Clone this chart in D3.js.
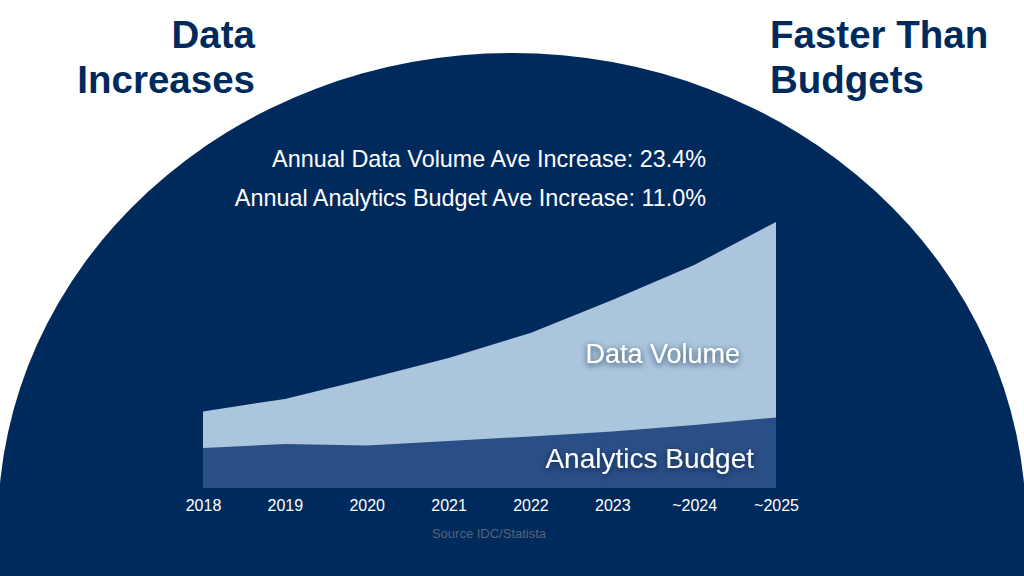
<!DOCTYPE html>
<html>
<head>
<meta charset="utf-8">
<script src="https://cdn.jsdelivr.net/npm/d3@7"></script>
<style>
  body { margin: 0; background: #fff; }
  svg { display: block; font-family: "Liberation Sans", Arial, sans-serif; }
  .axis text { fill: #fff; font-size: 16px; }
</style>
</head>
<body>
<div id="chart"></div>
<script>
// values (relative units, 2025 data volume = 100)
var years = ["2018", "2019", "2020", "2021", "2022", "2023", "~2024", "~2025"];
var dataVolume = [28.8, 33.5, 41, 48.9, 58.3, 70.7, 83.8, 100];
var analyticsBudget = [15, 16.5, 16, 17.7, 19.4, 21.2, 23.7, 26.5];
var statLines = ["Annual Data Volume Ave Increase: 23.4%", "Annual Analytics Budget Ave Increase: 11.0%"];

var svg_width = 1024, svg_height = 576;
var svg = d3.select("#chart").append("svg")
    .attr("width", svg_width)
    .attr("height", svg_height);

var navy = "#002a5c";

var defs = svg.append("defs");
var shadow = defs.append("filter").attr("id", "shadow")
    .attr("x", "-20%").attr("y", "-40%").attr("width", "140%").attr("height", "180%");
shadow.append("feDropShadow")
    .attr("dx", 0).attr("dy", 2)
    .attr("stdDeviation", 3)
    .attr("flood-color", "#0b1f3a")
    .attr("flood-opacity", 0.75);

// big dome behind everything
svg.append("ellipse")
    .attr("cx", 512)
    .attr("cy", 525)
    .attr("rx", 514)
    .attr("ry", 472)
    .attr("fill", navy);
svg.append("rect")
    .attr("x", 0).attr("y", 525)
    .attr("width", svg_width).attr("height", svg_height - 525)
    .attr("fill", navy);

// titles
var titleL = svg.append("g").attr("fill", navy).attr("font-weight", "bold")
    .attr("font-size", 38.5).attr("text-anchor", "end");
titleL.append("text").attr("x", 255).attr("y", 48).text("Data");
titleL.append("text").attr("x", 255).attr("y", 93).text("Increases");

var titleR = svg.append("g").attr("fill", navy).attr("font-weight", "bold")
    .attr("font-size", 38.5).attr("text-anchor", "start");
titleR.append("text").attr("x", 770).attr("y", 48).text("Faster Than");
titleR.append("text").attr("x", 770).attr("y", 93).text("Budgets");

// stats
svg.append("g")
    .attr("fill", "#fff")
    .attr("font-size", 23.4)
    .attr("text-anchor", "end")
    .selectAll("text")
    .data(statLines)
    .enter().append("text")
    .attr("x", 706)
    .attr("y", function(d, i) { return 166.5 + i * 39; })
    .text(function(d) { return d; });

var x = d3.scalePoint()
    .domain(years)
    .range([203, 776]);

var y = d3.scaleLinear()
    .domain([0, 100])
    .range([488, 222]);

var volArea = d3.area()
    .x(function(d, i) { return x(years[i]); })
    .y0(y(0))
    .y1(function(d) { return y(d); });

svg.append("path")
    .datum(dataVolume)
    .attr("fill", "#aac5dc")
    .attr("d", volArea);

svg.append("path")
    .datum(analyticsBudget)
    .attr("fill", "#2a4f86")
    .attr("d", volArea);

// series labels
svg.append("text")
    .attr("x", 740).attr("y", 363)
    .attr("text-anchor", "end")
    .attr("fill", "#fff")
    .attr("font-size", 27)
    .attr("filter", "url(#shadow)")
    .text("Data Volume");

svg.append("text")
    .attr("x", 754).attr("y", 468)
    .attr("text-anchor", "end")
    .attr("fill", "#fff")
    .attr("font-size", 28)
    .attr("filter", "url(#shadow)")
    .text("Analytics Budget");

svg.append("g")
    .attr("class", "axis")
    .attr("transform", "translate(0," + y(0) + ")")
    .call(d3.axisBottom(x).tickSize(0).tickPadding(12))
    .call(function(g) { g.select(".domain").remove(); })
    .selectAll("text")
    .attr("font-size", 16)
    .attr("font-family", "Liberation Sans, Arial, sans-serif");

svg.append("text")
    .attr("x", 489).attr("y", 538)
    .attr("text-anchor", "middle")
    .attr("fill", "#56637a")
    .attr("font-size", 13)
    .text("Source IDC/Statista");
</script>
</body>
</html>
